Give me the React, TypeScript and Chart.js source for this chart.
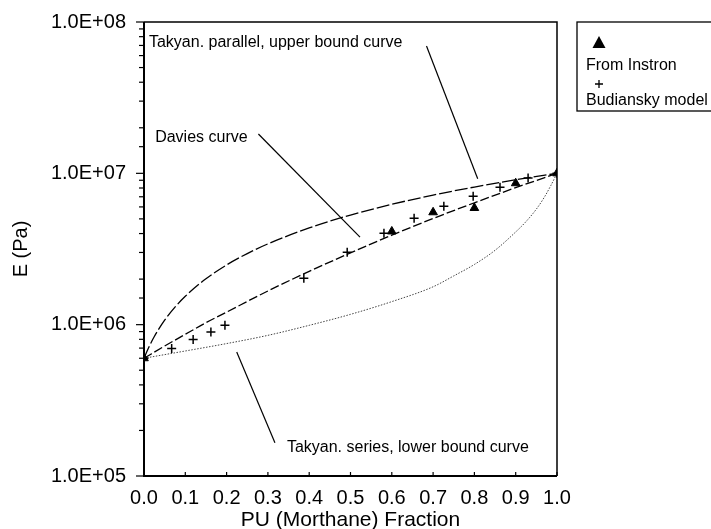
import React, { useEffect, useRef } from 'react';
import { Chart, registerables } from 'chart.js';

Chart.register(...registerables);

// ---- data ----
const upperX = [0, 0.01, 0.025, 0.05, 0.075, 0.1, 0.15, 0.2, 0.25, 0.3, 0.4, 0.5, 0.6, 0.7, 0.8, 0.9, 1.0];
const upperE = [6.0e5, 6.94e5, 8.35e5, 1.07e6, 1.305e6, 1.54e6, 2.01e6, 2.48e6, 2.95e6, 3.42e6, 4.36e6, 5.3e6, 6.24e6, 7.18e6, 8.12e6, 9.06e6, 1.0e7];

const daviesX = [0, 0.05, 0.1, 0.15, 0.2, 0.3, 0.4, 0.5, 0.6, 0.7, 0.8, 0.9, 1.0];
const daviesE = [6.0e5, 7.22e5, 8.64e5, 1.03e6, 1.21e6, 1.67e6, 2.25e6, 2.98e6, 3.9e6, 5.03e6, 6.39e6, 8.04e6, 1.0e7];

const lowerX = [0, 0.1, 0.2, 0.3, 0.4, 0.5, 0.6, 0.7, 0.75, 0.8, 0.85, 0.9, 0.925, 0.95, 0.97, 0.985, 1.0];
const lowerE = [6.0e5, 6.7e5, 7.5e5, 8.5e5, 9.9e5, 1.17e6, 1.42e6, 1.78e6, 2.1e6, 2.5e6, 3.1e6, 4.1e6, 4.8e6, 5.8e6, 7.0e6, 8.3e6, 1.0e7];

const instronX = [0, 0.6, 0.7, 0.8, 0.9, 1.0];
const instronE = [6.0e5, 4.13e6, 5.53e6, 5.9e6, 8.6e6, 1.0e7];

const budianskyX = [0, 0.067, 0.119, 0.162, 0.196, 0.387, 0.492, 0.581, 0.654, 0.726, 0.797, 0.862, 0.93, 1.0];
const budianskyE = [6.0e5, 6.95e5, 7.98e5, 8.96e5, 9.9e5, 2.03e6, 3.01e6, 4.02e6, 5.05e6, 6.05e6, 7.05e6, 8.1e6, 9.3e6, 1.0e7];

const yDecades = [1e5, 1e6, 1e7, 1e8];
const yTickLabels = ['1.0E+05', '1.0E+06', '1.0E+07', '1.0E+08'];
const xTickLabels = ['0.0', '0.1', '0.2', '0.3', '0.4', '0.5', '0.6', '0.7', '0.8', '0.9', '1.0'];

const legendLabels = ['From Instron', 'Budiansky model'];

const annotationTexts = [
  'Takyan. parallel, upper bound curve',
  'Davies curve',
  'Takyan. series, lower bound curve',
];
// anchor [x, E] of text and leader line endpoints in data coordinates
const annotationAnchors = [
  { at: [0.012, 7.3e7], from: [0.684, 6.95e7], to: [0.808, 9.2e6] },
  { at: [0.027, 1.72e7], from: [0.277, 1.82e7], to: [0.523, 3.79e6] },
  { at: [0.346, 1.54e5], from: [0.2245, 6.6e5], to: [0.317, 1.66e5] },
];

const FONT = "'Liberation Sans', Arial, Helvetica, sans-serif";

const pts = (xs: number[], ys: number[]) => xs.map((x, i) => ({ x, y: ys[i] }));

const decoPlugin = {
  id: 'deco',
  afterDraw(chart: any) {
    const { ctx, chartArea: ca, scales } = chart;
    const xs = scales.x;
    const ys = scales.y;
    ctx.save();
    ctx.strokeStyle = '#000';
    ctx.fillStyle = '#000';

    // frame
    ctx.lineWidth = 2;
    ctx.beginPath();
    ctx.moveTo(ca.left, ca.top);
    ctx.lineTo(ca.left, ca.bottom);
    ctx.lineTo(ca.right, ca.bottom);
    ctx.stroke();
    ctx.lineWidth = 1.5;
    ctx.beginPath();
    ctx.moveTo(ca.left, ca.top);
    ctx.lineTo(ca.right, ca.top);
    ctx.lineTo(ca.right, ca.bottom);
    ctx.stroke();

    // y ticks (outside, left)
    ctx.lineWidth = 1.2;
    ys.ticks.forEach((t: any) => {
      const p = ys.getPixelForValue(t.value);
      const isDec = yDecades.some((d) => Math.abs(d - t.value) < d * 1e-6);
      const len = isDec ? 8 : 5;
      ctx.beginPath();
      ctx.moveTo(ca.left - len, p);
      ctx.lineTo(ca.left, p);
      ctx.stroke();
    });
    // x ticks (inside, up)
    xs.ticks.forEach((t: any) => {
      const p = xs.getPixelForValue(t.value);
      ctx.beginPath();
      ctx.moveTo(p, ca.bottom);
      ctx.lineTo(p, ca.bottom - 4);
      ctx.stroke();
    });

    // annotations
    ctx.font = `16px ${FONT}`;
    ctx.textBaseline = 'middle';
    ctx.textAlign = 'left';
    ctx.lineWidth = 1.2;
    annotationAnchors.forEach((a, i) => {
      ctx.fillText(annotationTexts[i], xs.getPixelForValue(a.at[0]), ys.getPixelForValue(a.at[1]));
      ctx.beginPath();
      ctx.moveTo(xs.getPixelForValue(a.from[0]), ys.getPixelForValue(a.from[1]));
      ctx.lineTo(xs.getPixelForValue(a.to[0]), ys.getPixelForValue(a.to[1]));
      ctx.stroke();
    });

    // legend box
    const lx = ca.right + 20;
    const ly = ca.top;
    ctx.lineWidth = 1.3;
    ctx.strokeRect(lx, ly, 160, 89);
    // triangle symbol
    const tx = lx + 22;
    const ty = ly + 20;
    ctx.beginPath();
    ctx.moveTo(tx, ty - 6);
    ctx.lineTo(tx + 6.5, ty + 6);
    ctx.lineTo(tx - 6.5, ty + 6);
    ctx.closePath();
    ctx.fill();
    ctx.font = `16px ${FONT}`;
    ctx.fillText(legendLabels[0], lx + 9, ly + 44);
    // plus symbol
    const px = lx + 22;
    const py = ly + 62;
    ctx.lineWidth = 1.3;
    ctx.beginPath();
    ctx.moveTo(px - 4, py);
    ctx.lineTo(px + 4, py);
    ctx.moveTo(px, py - 4);
    ctx.lineTo(px, py + 4);
    ctx.stroke();
    ctx.fillText(legendLabels[1], lx + 9, ly + 79);

    ctx.restore();
  },
};

export default function App() {
  const ref = useRef<HTMLCanvasElement | null>(null);

  useEffect(() => {
    if (!ref.current) return;
    Chart.defaults.color = '#000';
    const chart = new Chart(ref.current, {
      type: 'scatter',
      data: {
        datasets: [
          {
            label: legendLabels[0],
            data: pts(instronX, instronE),
            pointStyle: 'triangle',
            pointRadius: 5,
            backgroundColor: '#000',
            borderColor: '#000',
            borderWidth: 1,
            showLine: false,
          },
          {
            label: legendLabels[1],
            data: pts(budianskyX, budianskyE),
            pointStyle: 'cross',
            pointRadius: 4.5,
            borderColor: '#000',
            borderWidth: 1.5,
            showLine: false,
          },
          {
            label: annotationTexts[0],
            data: pts(upperX, upperE),
            showLine: true,
            pointRadius: 0,
            borderColor: '#000',
            borderWidth: 1.3,
            borderDash: [13, 3],
            cubicInterpolationMode: 'monotone',
          },
          {
            label: annotationTexts[1],
            data: pts(daviesX, daviesE),
            showLine: true,
            pointRadius: 0,
            borderColor: '#000',
            borderWidth: 1.3,
            borderDash: [9, 3],
            cubicInterpolationMode: 'monotone',
          },
          {
            label: annotationTexts[2],
            data: pts(lowerX, lowerE),
            showLine: true,
            pointRadius: 0,
            borderColor: '#444',
            borderWidth: 1,
            borderDash: [1.5, 1.5],
            cubicInterpolationMode: 'monotone',
          },
        ],
      },
      options: {
        animation: false,
        responsive: false,
        devicePixelRatio: 1,
        events: [],
        layout: { padding: { top: 21, right: 154, left: 0, bottom: 0 } },
        plugins: {
          legend: { display: false },
          tooltip: { enabled: false },
        },
        scales: {
          x: {
            type: 'linear',
            min: 0,
            max: 1,
            grid: { display: false },
            border: { display: false },
            ticks: {
              stepSize: 0.1,
              padding: 2,
              autoSkip: false,
              maxRotation: 0,
              font: { family: FONT, size: 20 },
              color: '#000',
              callback: (v: any, i: number) => xTickLabels[i] ?? '',
            },
            title: {
              display: true,
              text: 'PU (Morthane) Fraction',
              font: { family: FONT, size: 21, lineHeight: 0.8 },
              padding: { top: 0, bottom: 0 },
              color: '#000',
            },
            afterFit: (s: any) => {
              s.height = 53;
            },
          },
          y: {
            type: 'logarithmic',
            min: 1e5,
            max: 1e8,
            grid: { display: false },
            border: { display: false },
            ticks: {
              padding: 10,
              autoSkip: false,
              font: { family: FONT, size: 20 },
              color: '#000',
              callback: (v: any) => {
                const idx = yDecades.findIndex((d) => Math.abs(d - Number(v)) < d * 1e-6);
                return idx >= 0 ? yTickLabels[idx] : '';
              },
            },
            title: {
              display: true,
              text: 'E (Pa)',
              font: { family: FONT, size: 20, lineHeight: 1.2 },
              padding: { top: 9, bottom: 0 },
              color: '#000',
            },
            afterFit: (s: any) => {
              s.width = 144;
            },
          },
        },
      } as any,
      plugins: [decoPlugin],
    });
    return () => chart.destroy();
  }, []);

  return (
    <div style={{ position: 'absolute', left: 0, top: 0, width: 711, height: 529, background: '#fff' }}>
      <canvas ref={ref} width={711} height={529} style={{ display: 'block' }} />
    </div>
  );
}
